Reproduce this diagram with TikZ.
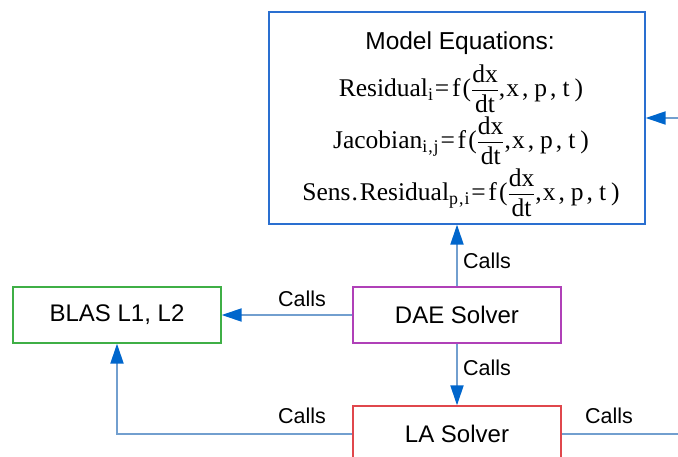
\documentclass[tikz,border=0pt]{standalone}
\usepackage{amsmath}
\usepackage{fontspec}
\setmainfont{Liberation Sans}
\newfontfamily\eqfont{Liberation Serif}
\usetikzlibrary{arrows.meta}
\newcommand{\eqt}[1]{\text{\eqfont #1}}
\newcommand{\eqrhs}{\mkern1mu\eqt{=}\mkern2mu\eqt{f}\mkern1.5mu\eqt{(}\dfrac{\raisebox{-2pt}{\eqt{dx}}}{\raisebox{1.5pt}{\eqt{dt}}}\eqt{,\hspace{1pt}x\hspace{3pt},\hspace{6pt}p\hspace{3pt},\hspace{6pt}t\hspace{5pt})}}
\definecolor{linecol}{HTML}{729FCF}
\definecolor{tipcol}{HTML}{0066CC}
\definecolor{modelcol}{HTML}{2A6FD0}
\definecolor{blascol}{HTML}{3FAF46}
\definecolor{daecol}{HTML}{B040B8}
\definecolor{lacol}{HTML}{E0474C}
\tikzset{
  box/.style={draw, line width=1.3pt, inner sep=0pt, minimum width=208pt, minimum height=56pt,
    font=\fontsize{24}{28}\selectfont},
  conn/.style={draw=linecol, line width=2pt,
    -{Triangle[length=20pt,width=13pt,color=tipcol,fill=tipcol]}},
  lbl/.style={anchor=base, inner sep=0pt, font=\fontsize{21.5}{24}\selectfont},
  eqline/.style={anchor=base, inner sep=0pt, font=\fontsize{25.5}{30}\selectfont},
}
\begin{document}
\begin{tikzpicture}[x=1pt,y=-1pt]
\useasboundingbox (0,0) rectangle (678,457);
\clip (0,0) rectangle (678,457);
% boxes
\node[box, draw=modelcol, minimum width=376pt, minimum height=212pt] (model) at (457,118) {};
\node[box, draw=blascol] (blas) at (117,315) {BLAS L1, L2};
\node[box, draw=daecol] (dae) at (457,315) {DAE Solver};
\node[box, draw=lacol] (la) at (457,434) {LA Solver};
% model text
\node[eqline, font=\fontsize{24.5}{28}\selectfont] (mtitle) at (460,50) {Model Equations:};
\node[eqline] (eq1) at (461,97) {$\eqt{Residual}_{\eqt{i}}\eqrhs$};
\node[eqline] (eq2) at (461,149) {$\eqt{Jacobian}_{\eqt{i\hspace{1pt},\hspace{1pt}j}}\eqrhs$};
\node[eqline] (eq3) at (461,201) {$\eqt{Sens\hspace{1pt}.\hspace{2pt}Residual}_{\eqt{p\hspace{1pt},\hspace{1pt}i}}\eqrhs$};
% connectors
\coordinate (rt) at (700,434);
\draw[conn] (dae.west) -- (blas.east);
\draw[conn] (dae.north) -- (model.south);
\draw[conn] (dae.south) -- (la.north);
\draw[conn] (la.west) -| (blas.south);
\draw[conn] (la.east) -- (rt) |- (model.east);
% labels
\node[lbl] (c1) at (302,307) {Calls};
\node[lbl] (c2) at (487,269) {Calls};
\node[lbl] (c3) at (487,375) {Calls};
\node[lbl] (c4) at (302,423) {Calls};
\node[lbl] (c5) at (609,423) {Calls};
\end{tikzpicture}
\end{document}
